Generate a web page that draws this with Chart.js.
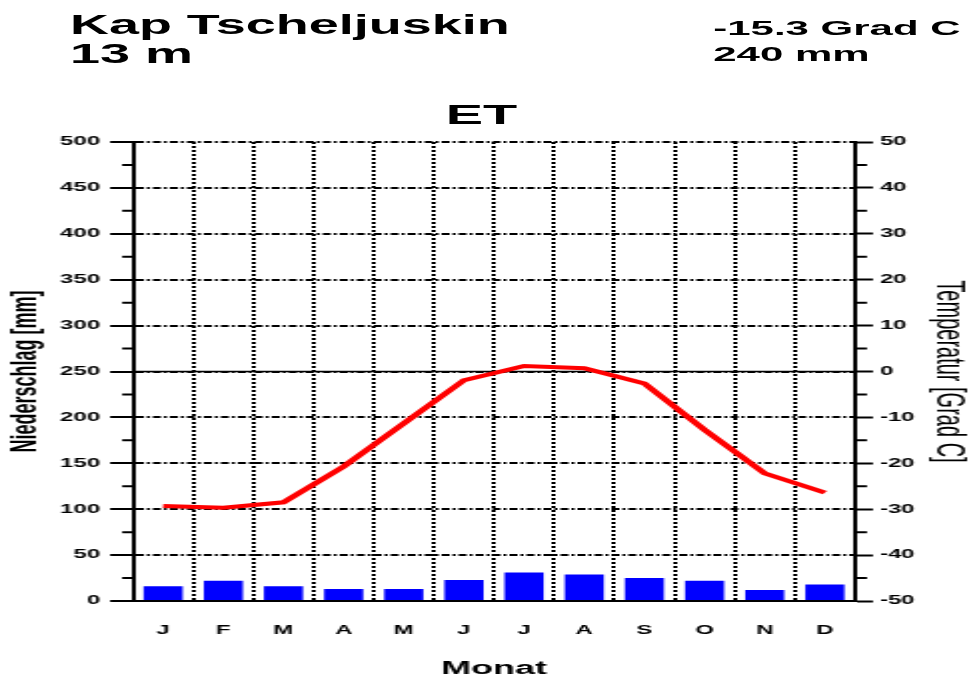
<!DOCTYPE html>
<html>
<head>
<meta charset="utf-8">
<script src="https://cdn.jsdelivr.net/npm/chart.js@4/dist/chart.umd.min.js"></script>
<style>
  html, body { margin: 0; padding: 0; background: #fff; overflow: hidden; }
  #wrap {
    position: absolute; left: 0; top: 0;
    width: 487px; height: 680px;
    transform-origin: 0 0;
    transform: scaleX(1.998);
    font-family: "Liberation Sans", Arial, sans-serif;
    color: #000;
  }
  #wrap canvas { position: absolute; left: 0; top: 0; }
  .txt { position: absolute; white-space: nowrap; font-weight: bold; }
</style>
</head>
<body>
<div id="wrap">
  <canvas id="chart" width="487" height="680"></canvas>
  <div class="txt" id="station" style="left:35px; top:12px; font-size:27px; line-height:27px;"></div>
  <div class="txt" id="height" style="left:35px; top:41px; font-size:27px; line-height:27px;"></div>
  <div class="txt" id="meanTemp" style="left:357px; top:17px; font-size:21px; line-height:21px;"></div>
  <div class="txt" id="sumPrec" style="left:357px; top:43px; font-size:21px; line-height:21px;"></div>
  <div class="txt" id="climate" style="left:191px; width:100px; text-align:center; top:101px; font-size:28px; line-height:28px;"></div>
</div>
<script>
// Station data: Kap Tscheljuskin, 13 m, climate class ET
const stationName = 'Kap Tscheljuskin';
const stationHeight = '13 m';
const climateClass = 'ET';
const months = ['J', 'F', 'M', 'A', 'M', 'J', 'J', 'A', 'S', 'O', 'N', 'D'];
const precipitation = [16, 22, 16, 13, 13, 23, 31, 29, 25, 22, 12, 18];          // mm
const temperature = [-29.3, -29.7, -28.5, -20.7, -11.3, -1.9, 1.2, 0.7, -2.6, -12.7, -22.2, -26.4]; // Grad C
const precipTicks = { min: 0, max: 500, step: 50 };
const tempTicks = { min: -50, max: 50, step: 10 };

const totalPrec = precipitation.reduce((a, b) => a + b, 0);
const meanTemp = temperature.reduce((a, b) => a + b, 0) / temperature.length;

document.getElementById('station').textContent = stationName;
document.getElementById('height').textContent = stationHeight;
document.getElementById('meanTemp').textContent = meanTemp.toFixed(1) + ' Grad C';
document.getElementById('sumPrec').textContent = Math.round(totalPrec) + ' mm';
document.getElementById('climate').textContent = climateClass;

const FONT = '"Liberation Sans", Arial, sans-serif';

// Short minor ticks between the labelled ones, and the solid 0 °C line
const extras = {
  id: 'extras',
  beforeDatasetsDraw(chart) {
    const { ctx, chartArea: a, scales } = chart;
    const y0 = scales.y2.getPixelForValue(0);
    ctx.save();
    ctx.strokeStyle = '#000';
    ctx.lineWidth = 1.6;
    ctx.beginPath();
    ctx.moveTo(a.left, y0);
    ctx.lineTo(a.right, y0);
    ctx.stroke();
    ctx.restore();
  },
  afterDraw(chart) {
    const { ctx, chartArea: a, scales } = chart;
    ctx.save();
    ctx.strokeStyle = '#000';
    ctx.lineWidth = 2;
    ctx.beginPath();
    for (let v = precipTicks.min + precipTicks.step / 2; v < precipTicks.max; v += precipTicks.step) {
      const y = scales.y.getPixelForValue(v);
      ctx.moveTo(a.left - 5.5, y);
      ctx.lineTo(a.left, y);
    }
    for (let t = tempTicks.min + tempTicks.step / 2; t < tempTicks.max; t += tempTicks.step) {
      const y = scales.y2.getPixelForValue(t);
      ctx.moveTo(a.right, y);
      ctx.lineTo(a.right + 6, y);
    }
    ctx.stroke();
    ctx.restore();
  }
};

new Chart(document.getElementById('chart'), {
  type: 'bar',
  data: {
    labels: months,
    datasets: [
      {
        type: 'line',
        label: 'Temperatur',
        data: temperature,
        yAxisID: 'y2',
        borderColor: '#ff0000',
        borderWidth: 4,
        tension: 0,
        pointRadius: 0,
        fill: false,
        order: 0
      },
      {
        type: 'bar',
        label: 'Niederschlag',
        data: precipitation,
        yAxisID: 'y',
        backgroundColor: '#0000ff',
        borderWidth: 0,
        barPercentage: 0.65,
        categoryPercentage: 1,
        order: 1
      }
    ]
  },
  options: {
    responsive: false,
    animation: false,
    events: [],
    layout: { padding: { top: 142, left: 0, right: 0, bottom: 0 } },
    plugins: { legend: { display: false }, tooltip: { enabled: false }, title: { display: false } },
    scales: {
      x: {
        type: 'category',
        offset: true,
        afterFit(s) { s.height = 79; },
        grid: {
          offset: true,
          color: '#000',
          lineWidth: 2,
          drawTicks: false
        },
        border: { display: true, color: '#000', width: 2, dash: [2, 2] },
        ticks: {
          color: '#000',
          padding: 22,
          font: { family: FONT, size: 12, weight: 'bold' },
          maxRotation: 0
        },
        title: {
          display: true,
          text: 'Monat',
          color: '#000',
          font: { family: FONT, size: 18, weight: 'bold' },
          padding: { top: 0, bottom: 0 }
        }
      },
      y: {
        position: 'left',
        min: precipTicks.min,
        max: precipTicks.max,
        afterFit(s) { s.width = 66.6; },
        grid: {
          color: '#000',
          lineWidth: 2,
          drawTicks: true,
          tickLength: 11.5,
          tickColor: '#000',
          tickWidth: 2,
          tickBorderDash: []
        },
        border: { display: true, color: '#000', width: 2, dash: [4, 1.5, 1.5, 1.5] },
        ticks: {
          stepSize: precipTicks.step,
          color: '#000',
          padding: 5,
          font: { family: FONT, size: 12, weight: 'bold' }
        },
        title: {
          display: true,
          text: 'Niederschlag [mm]',
          color: '#000',
          font: { family: FONT, size: 18, weight: 'bold' },
          padding: { top: 2, bottom: 0 }
        }
      },
      y2: {
        position: 'right',
        min: tempTicks.min,
        max: tempTicks.max,
        afterFit(s) { s.width = 59.1; },
        grid: {
          drawOnChartArea: false,
          drawTicks: true,
          tickLength: 9,
          tickColor: '#000',
          tickWidth: 2,
          tickBorderDash: []
        },
        border: { display: true, color: '#000', width: 2 },
        ticks: {
          stepSize: tempTicks.step,
          color: '#000',
          padding: 3.5,
          font: { family: FONT, size: 12, weight: 'bold' }
        },
        title: {
          display: true,
          text: 'Temperatur [Grad C]',
          color: '#000',
          font: { family: FONT, size: 20, weight: 'normal' },
          padding: { top: 0.5, bottom: 0 }
        }
      }
    }
  },
  plugins: [extras]
});
</script>
</body>
</html>
